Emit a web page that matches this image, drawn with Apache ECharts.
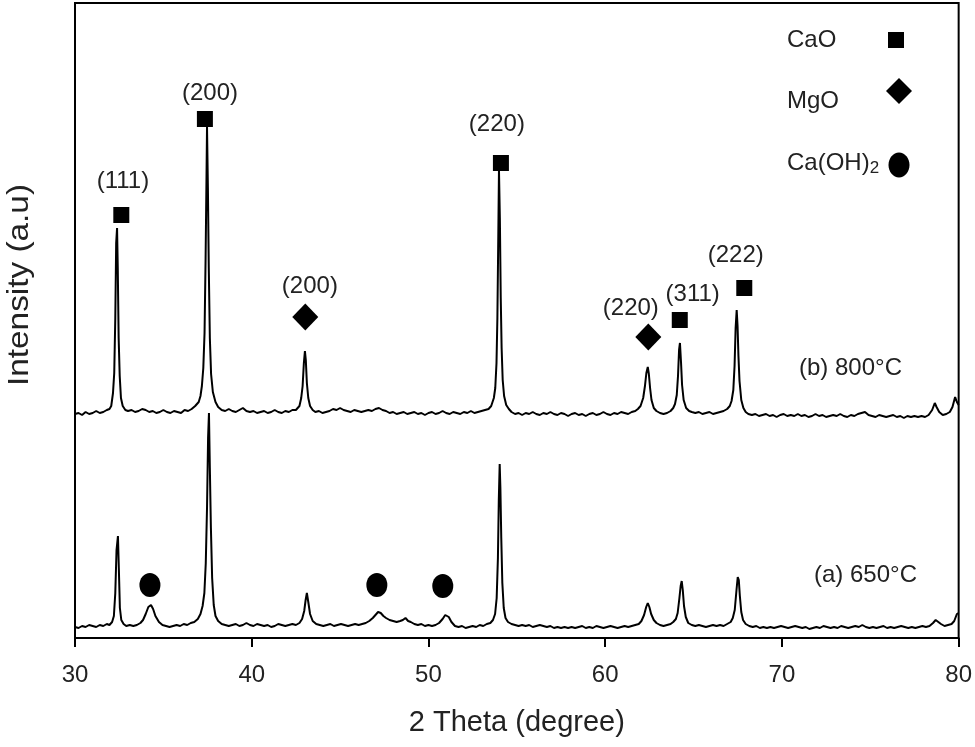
<!DOCTYPE html>
<html><head><meta charset="utf-8">
<script src="https://cdn.jsdelivr.net/npm/echarts@6/dist/echarts.min.js"></script>
<style>html,body{margin:0;padding:0;background:#fff}#c{width:975px;height:747px}</style>
</head><body><div id="c"></div>
<script>
// XRD pattern (b) 800°C : [2theta, intensity (a.u., offset)]
const pattern800 = [[30.0,224],[30.2,225],[30.4,223],[30.6,226],[30.8,224],[31.0,225],[31.2,227],[31.4,225],[31.6,226],[31.8,228],[31.95,229],
[32.05,232],[32.15,245],[32.22,265],[32.28,320],[32.33,395],[32.38,410],[32.42,370],[32.47,300],[32.53,262],[32.6,240],[32.7,232],[32.85,228],
[33.0,227],[33.2,228],[33.4,226],[33.6,227],[33.8,229],[34.0,228],[34.2,226],[34.4,227],[34.6,225],[34.8,226],[35.0,228],[35.2,226],[35.4,225],[35.6,227],[35.8,226],[36.0,225],[36.2,228],[36.4,227],[36.6,229],[36.8,232],
[37.0,236],[37.1,242],[37.18,252],[37.26,270],[37.33,305],[37.39,380],[37.44,460],[37.47,511],[37.52,450],[37.57,370],[37.63,300],[37.7,264],[37.8,246],[37.95,236],[38.1,231],
[38.3,228],[38.5,227],[38.7,229],[38.9,227],[39.1,226],[39.3,228],[39.5,230],[39.7,227],[39.9,226],[40.1,227],[40.3,225],[40.5,226],[40.7,227],[40.9,225],[41.1,226],[41.3,228],[41.5,226],[41.7,225],[41.9,227],[42.1,226],[42.3,228],[42.5,228],
[42.7,232],[42.8,240],[42.88,252],[42.95,275],[43.01,287],[43.06,278],[43.12,255],[43.2,240],[43.3,232],[43.45,228],
[43.6,226],[43.8,227],[44.0,225],[44.2,226],[44.4,227],[44.6,229],[44.8,228],[45.0,230],[45.2,228],[45.4,227],[45.6,226],[45.8,228],[46.0,227],[46.2,226],[46.4,227],[46.6,228],[46.8,227],[47.0,229],[47.2,230],[47.4,228],[47.6,227],[47.8,225],[48.0,226],[48.2,224],[48.4,225],[48.6,226],[48.8,224],[49.0,225],[49.2,226],[49.4,224],[49.6,225],[49.8,223],[50.0,225],[50.2,226],[50.4,224],[50.6,225],[50.8,227],[51.0,225],[51.2,224],[51.4,226],[51.6,225],[51.8,224],[52.0,226],[52.2,225],[52.4,227],[52.6,225],[52.8,226],[53.0,227],[53.2,228],[53.4,229],
[53.55,232],[53.7,240],[53.78,250],[53.85,275],[53.9,320],[53.95,400],[53.99,468],[54.04,420],[54.09,340],[54.14,290],[54.2,258],[54.28,242],[54.4,233],[54.55,229],
[54.7,226],[54.9,224],[55.1,225],[55.3,223],[55.5,225],[55.7,224],[55.9,226],[56.1,224],[56.3,223],[56.5,225],[56.7,224],[56.9,226],[57.1,224],[57.3,223],[57.5,225],[57.7,224],[57.9,222],[58.1,224],[58.3,225],[58.5,223],[58.7,224],[58.9,222],[59.1,224],[59.3,225],[59.5,223],[59.7,224],[59.9,226],[60.1,224],[60.3,223],[60.5,225],[60.7,224],[60.9,226],[61.1,225],[61.3,224],[61.5,226],[61.7,227],[61.85,229],
[62.0,232],[62.15,240],[62.25,252],[62.33,265],[62.41,271],[62.47,264],[62.54,250],[62.62,238],[62.75,230],[62.9,227],
[63.1,225],[63.3,224],[63.5,225],[63.7,227],[63.85,230],[63.95,234],[64.05,243],[64.12,262],[64.18,288],[64.23,295],[64.29,276],[64.35,253],[64.44,238],[64.58,230],[64.75,227],
[64.9,226],[65.1,225],[65.3,226],[65.5,224],[65.7,225],[65.9,226],[66.1,224],[66.3,225],[66.5,226],[66.7,227],[66.9,229],
[67.05,232],[67.15,237],[67.25,248],[67.32,272],[67.38,310],[67.44,328],[67.49,312],[67.54,282],[67.6,257],[67.7,238],[67.82,230],[67.95,226],
[68.1,224],[68.3,223],[68.5,224],[68.7,222],[68.9,223],[69.1,224],[69.3,222],[69.5,223],[69.7,221],[69.9,223],[70.1,224],[70.3,222],[70.5,223],[70.7,222],[70.9,224],[71.1,222],[71.3,223],[71.5,221],[71.7,222],[71.9,224],[72.1,222],[72.3,223],[72.5,221],[72.7,222],[72.9,223],[73.1,222],[73.3,224],[73.5,222],[73.7,221],[73.9,223],[74.1,222],[74.3,224],[74.5,225],[74.7,226],[74.9,223],[75.1,222],[75.3,221],[75.5,223],[75.7,222],[75.9,221],[76.1,222],[76.3,223],[76.5,221],[76.7,222],[76.9,220],[77.1,222],[77.3,221],[77.5,222],[77.7,221],[77.9,222],[78.1,221],[78.3,223],
[78.5,228],[78.65,235],[78.75,231],[78.9,226],[79.1,223],[79.3,224],[79.5,226],[79.65,231],[79.8,241],[79.9,236],[80.0,233]];

// XRD pattern (a) 650°C
const pattern650 = [[30.0,11],[30.2,10],[30.4,12],[30.6,11],[30.8,13],[31.0,12],[31.2,11],[31.4,13],[31.6,12],[31.8,14],[31.95,13],
[32.1,16],[32.2,22],[32.28,45],[32.35,88],[32.43,102],[32.48,70],[32.54,30],[32.62,18],[32.75,14],
[32.9,12],[33.1,13],[33.3,12],[33.5,13],[33.7,15],[33.85,18],[34.0,24],[34.15,31],[34.3,33],[34.42,29],[34.55,22],[34.75,16],[34.95,13],
[35.15,12],[35.35,11],[35.55,12],[35.75,13],[35.95,12],[36.15,14],[36.35,13],[36.55,15],[36.75,16],[36.95,19],
[37.1,24],[37.22,32],[37.32,45],[37.4,75],[37.47,130],[37.53,200],[37.58,225],[37.63,170],[37.69,110],[37.76,60],[37.85,33],[37.95,22],[38.1,17],
[38.3,14],[38.5,13],[38.7,12],[38.9,13],[39.1,14],[39.3,12],[39.5,13],[39.7,15],[39.9,13],[40.1,12],[40.3,14],[40.5,13],[40.7,12],[40.9,13],[41.1,11],[41.3,12],[41.5,14],[41.7,13],[41.9,12],[42.1,13],[42.3,14],[42.5,13],
[42.7,15],[42.85,19],[42.97,27],[43.05,38],[43.12,45],[43.2,36],[43.3,24],[43.45,17],[43.65,14],
[43.85,13],[44.05,12],[44.25,13],[44.45,14],[44.65,12],[44.85,13],[45.05,14],[45.25,13],[45.45,12],[45.65,13],[45.85,14],[46.05,13],[46.25,14],[46.45,15],
[46.65,17],[46.85,20],[47.0,23],[47.15,26],[47.3,25],[47.45,22],[47.6,20],[47.8,18],[48.0,17],[48.2,16],[48.4,17],[48.55,18],[48.7,20],[48.85,17],[49.0,16],
[49.2,14],[49.4,13],[49.6,14],[49.8,12],[50.0,13],[50.2,12],[50.4,13],
[50.6,15],[50.8,19],[50.95,23],[51.05,24],[51.15,21],[51.3,16],[51.5,12],
[51.7,11],[51.9,12],[52.1,10],[52.3,11],[52.5,12],[52.7,11],[52.9,13],[53.1,12],[53.3,14],[53.5,15],
[53.65,18],[53.77,24],[53.86,40],[53.93,80],[53.98,138],[54.03,174],[54.07,150],[54.12,100],[54.18,55],[54.26,30],[54.36,20],[54.5,16],
[54.7,14],[54.9,13],[55.1,12],[55.3,13],[55.5,12],[55.7,13],[55.9,11],[56.1,12],[56.3,13],[56.5,12],[56.7,11],[56.9,12],[57.1,10],[57.3,11],[57.5,10],[57.7,11],[57.9,10],[58.1,11],[58.3,10],[58.5,11],[58.7,12],[58.9,10],[59.1,11],[59.3,10],[59.5,12],[59.7,11],[59.9,10],[60.1,11],[60.3,12],[60.5,11],[60.7,10],[60.9,11],[61.1,12],[61.3,11],[61.5,12],[61.7,13],
[61.9,14],[62.05,17],[62.2,23],[62.32,31],[62.41,35],[62.5,31],[62.6,24],[62.75,18],[62.9,15],
[63.1,13],[63.3,12],[63.5,13],[63.7,14],[63.85,16],[64.0,19],[64.1,25],[64.2,40],[64.27,52],[64.33,57],[64.39,48],[64.46,32],[64.56,21],[64.7,15],
[64.9,13],[65.1,12],[65.3,13],[65.5,12],[65.7,11],[65.9,12],[66.1,13],[66.3,12],[66.5,13],[66.7,12],[66.9,14],
[67.1,16],[67.22,20],[67.33,28],[67.43,48],[67.5,61],[67.56,58],[67.62,42],[67.7,26],[67.8,18],[67.95,14],
[68.15,12],[68.35,11],[68.55,12],[68.75,10],[68.95,11],[69.15,10],[69.35,11],[69.55,10],[69.75,11],[69.95,12],[70.15,11],[70.35,10],[70.55,11],[70.75,12],[70.95,11],[71.15,10],[71.35,11],[71.55,9],[71.75,10],[71.95,11],[72.15,10],[72.35,12],[72.55,11],[72.75,10],[72.95,11],[73.15,10],[73.35,12],[73.55,11],[73.75,10],[73.95,11],[74.15,12],[74.35,11],[74.55,13],[74.75,11],[74.95,10],[75.15,11],[75.35,10],[75.55,11],[75.75,12],[75.95,10],[76.15,11],[76.35,10],[76.55,11],[76.75,12],[76.95,11],[77.15,10],[77.35,11],[77.55,10],[77.75,11],[77.95,12],[78.15,11],[78.35,12],
[78.55,15],[78.7,18],[78.85,16],[79.0,14],[79.2,12],[79.4,13],[79.6,14],[79.75,17],[79.9,24],[80.0,25]];

// Phase markers [2theta, height]
const caoMarkers = [[32.62,423],[37.35,519],[54.1,475],[64.22,318],[67.87,350]];
const mgoMarkers = [[43.03,321],[62.44,301]];
const caohMarkers = [[34.24,53],[47.08,53],[50.81,52]];

// Miller index labels
const hklText = ['(111)','(200)','(200)','(220)','(220)','(311)','(222)'];
const hklX = [32.71,37.64,43.29,53.87,61.45,64.95,67.39];
const hklY = [457,545,352,514,330,344,383];

// x-axis
const xMin = 30, xMax = 80, xStep = 10;

const FONT = '"Liberation Sans", Arial, sans-serif';
const TXT = '#222';
const chart = echarts.init(document.getElementById('c'), null, {renderer:'canvas'});

chart.setOption({
  animation:false,
  backgroundColor:'#fff',
  grid:{left:75,right:16,top:3,bottom:109,show:true,borderColor:'#000',borderWidth:2,backgroundColor:'transparent'},
  xAxis:{type:'value',min:xMin,max:xMax,interval:xStep,
    name:'2 Theta (degree)',nameLocation:'middle',nameGap:70,
    nameTextStyle:{fontFamily:FONT,fontSize:29,color:TXT},
    axisLine:{lineStyle:{color:'#000',width:2}},
    axisTick:{inside:false,length:9,lineStyle:{color:'#000',width:2}},
    axisLabel:{fontFamily:FONT,fontSize:24,color:TXT,margin:25},
    splitLine:{show:false}},
  yAxis:{type:'value',min:0,max:635,
    axisLine:{show:true,lineStyle:{color:'#000',width:2}},
    axisTick:{show:false},axisLabel:{show:false},splitLine:{show:false}},
  series:[
    {type:'line',data:pattern800,showSymbol:false,lineStyle:{color:'#000',width:2},z:3},
    {type:'line',data:pattern650,showSymbol:false,lineStyle:{color:'#000',width:2},z:3},
    {type:'scatter',data:caoMarkers,symbol:'rect',symbolSize:16,itemStyle:{color:'#000',opacity:1},z:4},
    {type:'scatter',data:mgoMarkers,symbol:'diamond',symbolSize:[26,27],itemStyle:{color:'#000',opacity:1},z:4},
    {type:'scatter',data:caohMarkers,symbol:'circle',symbolSize:[21,24],itemStyle:{color:'#000',opacity:1},z:4},
    {type:'scatter',symbolSize:0,z:5,itemStyle:{opacity:1},
      data:hklText.map((t,i)=>({value:[hklX[i],hklY[i]],name:t})),
      label:{show:true,position:'inside',formatter:p=>p.name,fontFamily:FONT,fontSize:24,color:TXT,opacity:1}}
  ],
  graphic:[
    {type:'text',x:20,y:285,rotation:Math.PI/2,scaleX:1.15,
      style:{text:'Intensity (a.u)',font:'29px '+FONT,fill:TXT,textAlign:'center',textVerticalAlign:'middle'}},
    {type:'text',left:799,top:356,style:{text:'(b) 800°C',font:'24px '+FONT,fill:TXT}},
    {type:'text',left:814,top:563,style:{text:'(a) 650°C',font:'24px '+FONT,fill:TXT}},
    {type:'text',left:787,top:28,style:{text:'CaO',font:'24px '+FONT,fill:TXT}},
    {type:'text',left:787,top:89,style:{text:'MgO',font:'24px '+FONT,fill:TXT}},
    {type:'text',left:787,top:151,style:{rich:{n:{font:'24px '+FONT,fill:TXT},s:{font:'17px '+FONT,fill:TXT,padding:[10,0,0,0]}},text:'{n|Ca(OH)}{s|2}'}},
    {type:'rect',shape:{x:888,y:32,width:16,height:16},style:{fill:'#000'}},
    {type:'polygon',shape:{points:[[899,78],[912,91],[899,104],[886,91]]},style:{fill:'#000'}},
    {type:'ellipse',shape:{cx:899,cy:165,rx:10.5,ry:12.5},style:{fill:'#000'}}
  ]
});
</script>
</body></html>
